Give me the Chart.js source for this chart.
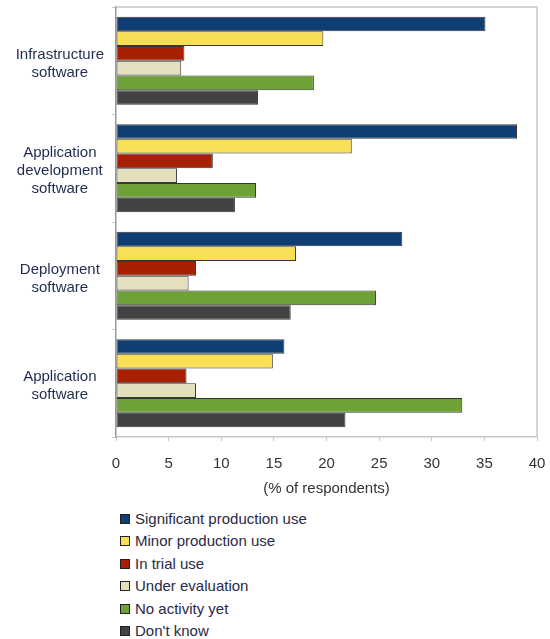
<!DOCTYPE html>
<html>
<head>
<meta charset="utf-8">
<script src="https://cdn.jsdelivr.net/npm/chart.js@4.4.1/dist/chart.umd.min.js"></script>
<style>
  body { margin: 0; background: #fff; font-family: "Liberation Sans", Arial, sans-serif; }
  #wrap { position: relative; width: 550px; height: 639px; }
  #box { position: absolute; left: 0; top: 0; width: 550px; height: 500px; }
  #legend { position: absolute; left: 120px; top: 508px; margin: 0; padding: 0; list-style: none; }
  #legend li { height: 22.4px; line-height: 22.4px; font-size: 15px; color: #2a2a44; white-space: nowrap; }
  #legend span { display: inline-block; width: 8px; height: 8px; margin-right: 5px; border: 1px solid #222; vertical-align: 0px; }
</style>
</head>
<body>
<div id="wrap">
  <div id="box"><canvas id="chart"></canvas></div>
  <ul id="legend"></ul>
</div>
<script>
const categories = [
  ["Infrastructure", "software"],
  ["Application", "development", "software"],
  ["Deployment", "software"],
  ["Application", "software"]
];
const seriesNames = [
  "Significant production use",
  "Minor production use",
  "In trial use",
  "Under evaluation",
  "No activity yet",
  "Don't know"
];
const significant = [35.1, 38.1, 27.2, 16.0];
const minor = [19.7, 22.4, 17.1, 14.9];
const trial = [6.5, 9.2, 7.6, 6.7];
const evaluation = [6.2, 5.8, 6.9, 7.6];
const noActivity = [18.8, 13.3, 24.7, 32.9];
const dontKnow = [13.5, 11.3, 16.6, 21.8];
const xTicksMax = 40;
const xTicksStep = 5;

const colors = ["#0f3f72", "#f8df56", "#a91f02", "#e4dfbc", "#6ca236", "#424242"];
const values = [significant, minor, trial, evaluation, noActivity, dontKnow];

const framePlugin = {
  id: "frame",
  afterDatasetsDraw(chart) {
    const { ctx, chartArea } = chart;
    ctx.save();
    ctx.strokeStyle = "#c8c8c8";
    ctx.lineWidth = 1.5;
    ctx.beginPath();
    ctx.moveTo(chartArea.left, chartArea.top);
    ctx.lineTo(chartArea.right, chartArea.top);
    ctx.lineTo(chartArea.right, chartArea.bottom);
    ctx.stroke();
    ctx.restore();
  }
};

const chart = new Chart(document.getElementById("chart"), {
  type: "bar",
  data: {
    labels: categories,
    datasets: seriesNames.map((name, i) => ({
      label: name,
      data: values[i],
      backgroundColor: colors[i],
      borderColor: "rgba(20,20,20,0.85)",
      borderWidth: 1,
      borderSkipped: false,
      categoryPercentage: 0.82,
      barPercentage: 1.0
    }))
  },
  options: {
    indexAxis: "y",
    responsive: true,
    maintainAspectRatio: false,
    animation: false,
    layout: { padding: { left: 0, right: 13, top: 7, bottom: 0 } },
    plugins: {
      legend: { display: false },
      tooltip: { enabled: false }
    },
    scales: {
      x: {
        min: 0,
        max: xTicksMax,
        ticks: {
          stepSize: xTicksStep,
          color: "#333",
          font: { family: "Liberation Sans", size: 15 },
          padding: 14
        },
        grid: { drawOnChartArea: false, drawTicks: true, tickLength: 4, color: "#c8c8c8" },
        border: { color: "#c8c8c8", width: 1.5 },
        title: {
          display: true,
          text: "(% of respondents)",
          color: "#333",
          font: { family: "Liberation Sans", size: 15 },
          padding: { top: 0, bottom: 2 }
        },
        afterFit(scale) {
          scale.height = 63;
          scale.paddingLeft = 0;
          scale.paddingRight = 0;
        }
      },
      y: {
        ticks: {
          color: "#1e2c4e",
          font: { family: "Liberation Sans", size: 15 },
          crossAlign: "center",
          padding: 8,
          labelOffset: 3
        },
        grid: { drawOnChartArea: false, drawTicks: true, tickLength: 4, color: "#c8c8c8", offset: true },
        border: { color: "#999", width: 1.5 },
        afterFit(scale) {
          scale.width = 116;
          scale.paddingTop = 0;
          scale.paddingBottom = 0;
        }
      }
    }
  },
  plugins: [framePlugin]
});

const legend = document.getElementById("legend");
chart.data.datasets.forEach(ds => {
  const li = document.createElement("li");
  const sw = document.createElement("span");
  sw.style.background = ds.backgroundColor;
  li.appendChild(sw);
  li.appendChild(document.createTextNode(ds.label));
  legend.appendChild(li);
});
</script>
</body>
</html>
